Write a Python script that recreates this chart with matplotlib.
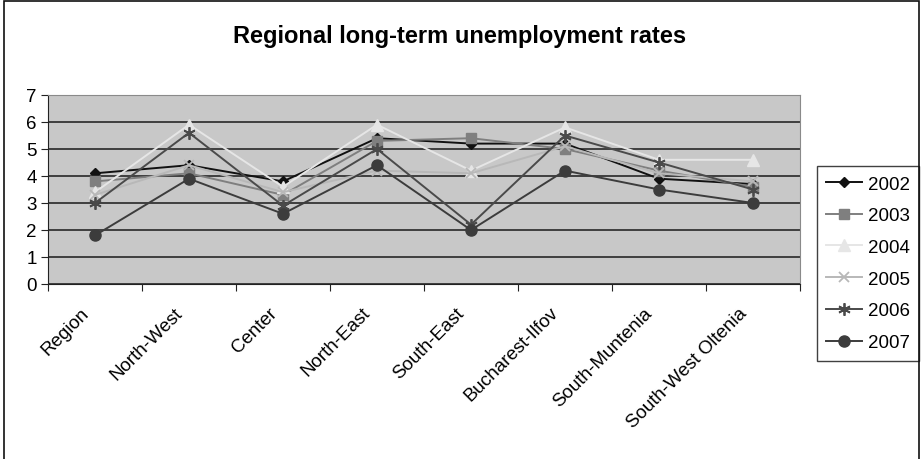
import matplotlib
matplotlib.use("Agg")
import matplotlib.pyplot as plt
from matplotlib.patches import Rectangle
from matplotlib.transforms import ScaledTranslation
import numpy as np

plt.rcParams['font.family'] = ['Liberation Sans', 'DejaVu Sans']

regions = ["Region", "North-West", "Center", "North-East", "South-East",
           "Bucharest-Ilfov", "South-Muntenia", "South-West Oltenia"]
years = ["2002", "2003", "2004", "2005", "2006", "2007"]

rate_2002 = [4.1, 4.4, 3.8, 5.4, 5.2, 5.2, 3.9, 3.7]
rate_2003 = [3.8, 4.1, 3.3, 5.3, 5.4, 5.0, 4.2, 3.6]
rate_2004 = [3.4, 5.9, 3.6, 5.9, 4.2, 5.8, 4.6, 4.6]
rate_2005 = [3.3, 4.4, 3.4, 4.2, 4.1, 5.1, 4.1, 3.8]
rate_2006 = [3.0, 5.6, 2.9, 5.0, 2.2, 5.5, 4.5, 3.5]
rate_2007 = [1.8, 3.9, 2.6, 4.4, 2.0, 4.2, 3.5, 3.0]

series = [rate_2002, rate_2003, rate_2004, rate_2005, rate_2006, rate_2007]
styles = [
    dict(color="#111111", marker="D", ms=5.5),
    dict(color="#7f7f7f", marker="s", ms=7),
    dict(color="#e6e6e6", marker="^", ms=8),
    dict(color="#b8b8b8", marker="x", ms=7, mew=1.3),
    dict(color="#4a4a4a", marker=(6, 2, 0), ms=9, mew=1.3),
    dict(color="#3c3c3c", marker="o", ms=8),
]

fig = plt.figure(figsize=(9.22, 4.6), dpi=100)
ax = fig.add_axes([48 / 922, 1 - 285 / 460, 752 / 922, 189 / 460])
ax.set_facecolor("#c8c8c8")

x = np.arange(len(regions))
for vals, yr, st in zip(series, years, styles):
    ax.plot(x, vals, label=yr, lw=1.4, color=st["color"], marker=st["marker"],
            ms=st["ms"], mew=st.get("mew", 1.0), mfc=st["color"], mec=st["color"],
            zorder=3)

ax.set_xlim(-0.5, len(regions) - 0.5)
ax.set_ylim(0, 7)
ax.set_yticks(range(0, 8))
ax.yaxis.grid(True, color="#1a1a1a", lw=1.1)
ax.set_axisbelow(True)

ax.set_xticks(np.arange(-0.5, len(regions), 1.0))
ax.set_xticklabels([])
ax.set_xticks(x, minor=True)
ax.set_xticklabels(regions, minor=True, rotation=45, ha="right",
                   va="top", rotation_mode="anchor", fontsize=13.5)
ax.tick_params(axis="x", which="minor", length=0, pad=10)
ax.tick_params(axis="x", which="major", length=5, direction="out", color="#222222")
ax.tick_params(axis="y", length=5, direction="out", color="#222222", labelsize=13.5, pad=3)

# nudge the slanted category labels down and to the left
shift = ScaledTranslation(-15 / 100, -6 / 100, fig.dpi_scale_trans)
for lbl in ax.get_xticklabels(minor=True):
    lbl.set_transform(lbl.get_transform() + shift)

for side in ("top", "right"):
    ax.spines[side].set_color("#8a8a8a")
for side in ("left", "bottom"):
    ax.spines[side].set_color("#222222")

fig.text(460 / 922, 1 - 37 / 460, "Regional long-term unemployment rates",
         ha="center", va="center", fontsize=17, fontweight="bold")

leg = ax.legend(loc="upper left", bbox_to_anchor=(817 / 922, 1 - 167 / 460),
                bbox_transform=fig.transFigure, frameon=True, fancybox=False,
                edgecolor="#111111", fontsize=13.5, handlelength=1.9,
                labelspacing=0.78, borderpad=0.5, handletextpad=0.3,
                borderaxespad=0.0)
leg.get_frame().set_linewidth(1.0)

fig.patches.append(Rectangle((4 / 922, -0.01), 915 / 922, 1.005, transform=fig.transFigure,
                             fill=False, edgecolor="#111111", lw=1.2))

fig.savefig("out.png", dpi=100, facecolor="white")
